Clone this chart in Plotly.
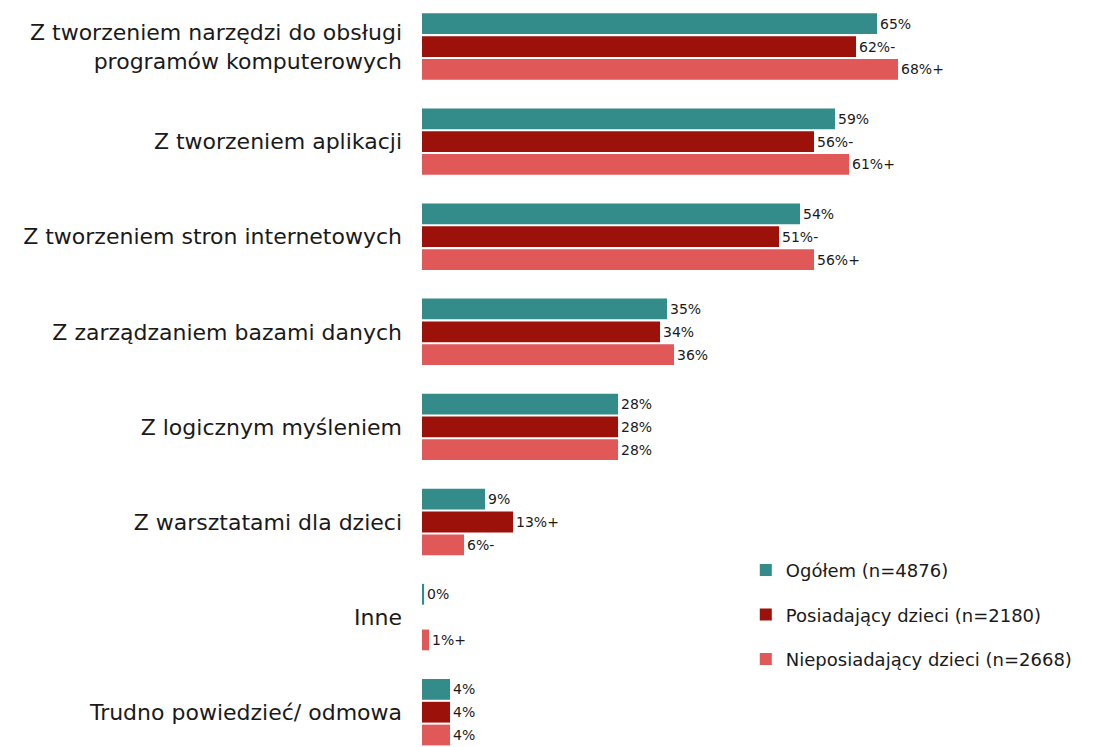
import plotly.graph_objects as go

categories = [
    "Z tworzeniem narzędzi do obsługi<br>programów komputerowych",
    "Z tworzeniem aplikacji",
    "Z tworzeniem stron internetowych",
    "Z zarządzaniem bazami danych",
    "Z logicznym myśleniem",
    "Z warsztatami dla dzieci",
    "Inne",
    "Trudno powiedzieć/ odmowa",
]

series_names = ["Ogółem (n=4876)", "Posiadający dzieci (n=2180)", "Nieposiadający dzieci (n=2668)"]

ogolem = [65, 59, 54, 35, 28, 9, 0.3, 4]
posiadajacy = [62, 56, 51, 34, 28, 13, None, 4]
nieposiadajacy = [68, 61, 56, 36, 28, 6, 1, 4]

ogolem_labels = ["65%", "59%", "54%", "35%", "28%", "9%", "0%", "4%"]
posiadajacy_labels = ["62%-", "56%-", "51%-", "34%", "28%", "13%+", "", "4%"]
nieposiadajacy_labels = ["68%+", "61%+", "56%+", "36%", "28%", "6%-", "1%+", "4%"]

colors = ["#338B8A", "#9C120A", "#E05858"]

FONT = "DejaVu Sans, sans-serif"

fig = go.Figure()
for name, vals, labs, col in zip(
    series_names,
    [ogolem, posiadajacy, nieposiadajacy],
    [ogolem_labels, posiadajacy_labels, nieposiadajacy_labels],
    colors,
):
    fig.add_trace(go.Bar(
        y=categories, x=vals, name=name, orientation="h",
        marker=dict(color=col, line=dict(width=0)),
        text=labs, textposition="outside", cliponaxis=False,
        textfont=dict(family=FONT, size=14, color="#1a1a1a"),
        legendgroup=name,
    ))

fig.update_layout(
    width=1100, height=739,
    margin=dict(l=414, r=0, t=0, b=0),
    paper_bgcolor="white", plot_bgcolor="white",
    barmode="group", bargap=0.28, bargroupgap=0.09,
    font=dict(family=FONT, color="#1a1a1a"),
    showlegend=True,
    legend=dict(
        x=0.472, y=0.264, xanchor="left", yanchor="top",
        font=dict(family=FONT, size=18, color="#1a1a1a"),
        tracegroupgap=18, traceorder="grouped",
        bgcolor="rgba(0,0,0,0)",
    ),
    xaxis=dict(range=[0, 98], visible=False),
    yaxis=dict(
        range=[7.366, -0.405], type="category",
        showline=False, showgrid=False, zeroline=False, ticks="",
        tickfont=dict(family=FONT, size=22, color="#1a1a1a"),
        ticklabelstandoff=19,
    ),
)

fig.write_html("out.html")
